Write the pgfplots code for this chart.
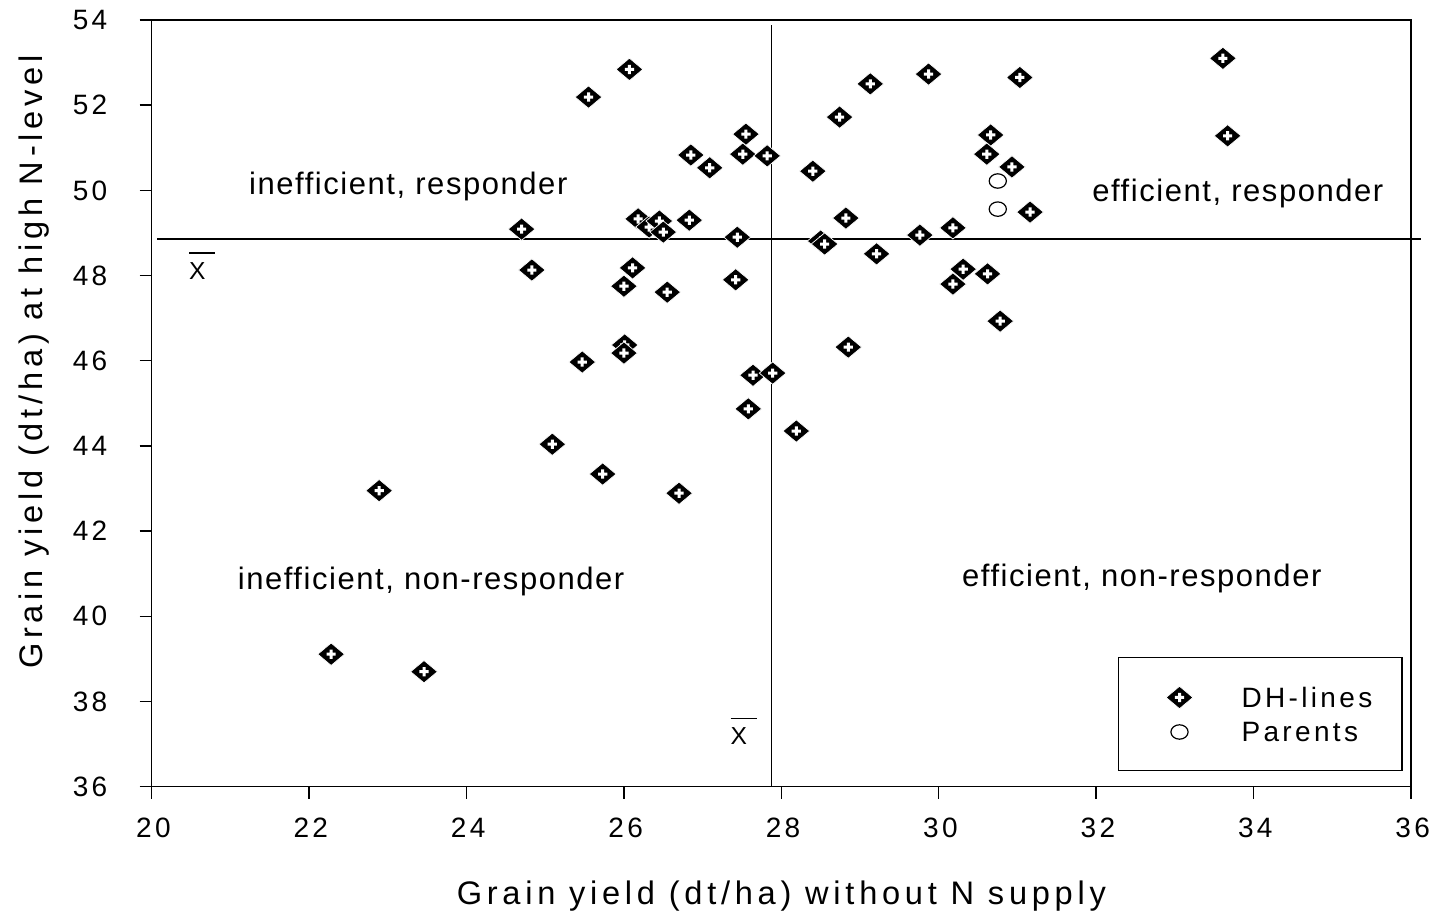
\documentclass[border=0pt]{standalone}
\usepackage{fontspec}
\setmainfont{Liberation Sans}[LetterSpace=12]
\newfontfamily\quadfont{Liberation Sans}[LetterSpace=5]
\newfontfamily\labfont{Liberation Sans}[LetterSpace=14.5]
\usepackage{pgfplots}
\pgfplotsset{compat=1.18}

\pgfdeclareplotmark{dhdiamond}{%
  \pgfpathmoveto{\pgfqpoint{0pt}{5.6pt}}%
  \pgfpathlineto{\pgfqpoint{6.7pt}{0pt}}%
  \pgfpathlineto{\pgfqpoint{0pt}{-5.6pt}}%
  \pgfpathlineto{\pgfqpoint{-6.7pt}{0pt}}%
  \pgfpathclose
  \pgfsetfillcolor{black}\pgfsetstrokecolor{white}\pgfsetlinewidth{0.35pt}%
  \pgfusepathqfillstroke
  \pgfsetfillcolor{white}%
  \pgfpathrectanglecorners{\pgfqpoint{-2.3pt}{-0.75pt}}{\pgfqpoint{2.3pt}{0.75pt}}%
  \pgfpathrectanglecorners{\pgfqpoint{-0.75pt}{-2.3pt}}{\pgfqpoint{0.75pt}{2.3pt}}%
  \pgfusepathqfill
}
\pgfdeclareplotmark{parentcirc}{%
  \pgfpathellipse{\pgfpointorigin}{\pgfqpoint{4.3pt}{0pt}}{\pgfqpoint{0pt}{3.6pt}}%
  \pgfsetfillcolor{white}\pgfsetstrokecolor{black}\pgfsetlinewidth{0.6pt}%
  \pgfusepathqfillstroke
}

\newcommand{\xbar}{\vbox{\hrule width 13pt height 0.7pt \kern 4.3pt \hbox{X}}}

\pgfplotstableread{
x y
33.61 53.10
33.67 51.28
26.07 52.84
25.55 52.19
29.87 52.73
31.03 52.65
29.13 52.50
28.74 51.72
27.55 51.32
30.66 51.30
27.51 50.85
27.82 50.81
26.85 50.83
27.09 50.53
30.61 50.85
30.93 50.55
28.40 50.45
31.16 49.49
24.70 49.09
26.18 49.33
26.32 49.14
26.45 49.28
26.50 49.02
26.83 49.30
27.44 48.90
28.50 48.81
28.55 48.74
28.82 49.35
29.76 48.95
30.18 49.12
24.83 48.13
26.11 48.18
26.00 47.75
26.55 47.61
27.42 47.90
29.21 48.51
30.31 48.15
30.18 47.80
30.62 48.04
30.78 46.93
26.01 46.37
26.00 46.18
25.47 45.97
28.85 46.32
27.64 45.66
27.89 45.71
27.58 44.87
28.19 44.35
25.09 44.04
25.73 43.34
26.70 42.89
22.89 42.95
22.28 39.11
23.46 38.70
}\dhlines

\pgfplotstableread{
x y
30.75 50.22
30.75 49.56
}\parents

\begin{document}
\begin{tikzpicture}
\useasboundingbox (-75.85pt,-64.15pt) rectangle (641.65pt,393.35pt);
\begin{axis}[
  at={(0pt,0pt)}, anchor=south west,
  scale only axis, width=629.65pt, height=383.35pt,
  xmin=20, xmax=36, ymin=36, ymax=54,
  xtick={20,22,...,36}, ytick={36,38,...,54},
  tick pos=left,
  tick align=outside,
  major tick length=6pt,
  axis line style={line width=0.7pt},
  tick style={line width=0.7pt, black},
  clip=false,
  /pgf/number format/assume math mode=true,
  tick label style={font=\fontsize{14}{16}\selectfont},
  xticklabel style={anchor=north, inner sep=0pt, yshift=-9.3pt, xshift=0.84pt},
  yticklabel style={anchor=east, inner sep=0pt, xshift=-16pt},
  xlabel={Grain yield (dt/ha) without N supply},
  ylabel={Grain yield (dt/ha) at high N-level},
  xlabel style={at={(axis description cs:0.5,-0.153)}, anchor=base, inner sep=0pt, font=\labfont\fontsize{16.3}{19}\selectfont},
  ylabel style={at={(axis description cs:-0.0871,0.554)}, anchor=base, inner sep=0pt, font=\labfont\fontsize{16.3}{19}\selectfont},
  legend cell align=left,
  legend style={at={(rel axis cs:0.9934,0.0205)}, anchor=south east,
    draw=black, line width=0.6pt,
    inner xsep=14.85pt, inner ysep=14.2pt,
    row sep=6.65pt, column sep=0pt,
    nodes={inner sep=0pt, text height=10pt, text depth=0pt, font=\fontsize{14}{16}\selectfont}},
  legend image code/.code={\path[draw=none] (-15.5pt,0pt) -- (31pt,0pt); \path[#1,draw=none] plot coordinates {(0pt,0pt)};},
]
\addplot[only marks, mark=dhdiamond] table[x=x,y=y] {\dhlines};
\addlegendentry{DH-lines}
\addplot[only marks, mark=parentcirc] table[x=x,y=y] {\parents};
\addlegendentry{Parents}

\addplot[forget plot, black, line width=0.6pt] coordinates {(27.87,36) (27.87,53.88)};
\addplot[forget plot, black, line width=0.6pt] coordinates {(20.07,48.86) (36.13,48.86)};

\node[anchor=base, inner sep=0pt, font=\quadfont\fontsize{15.5}{18}\selectfont] at (axis cs:23.26,49.91) {inefficient, responder};
\node[anchor=base, inner sep=0pt, font=\quadfont\fontsize{15.5}{18}\selectfont] at (axis cs:33.80,49.73) {efficient, responder};
\node[anchor=base, inner sep=0pt, font=\quadfont\fontsize{15.5}{18}\selectfont] at (axis cs:23.55,40.63) {inefficient, non-responder};
\node[anchor=base, inner sep=0pt, font=\quadfont\fontsize{15.5}{18}\selectfont] at (axis cs:32.58,40.69) {efficient, non-responder};
\node[anchor=base, inner sep=0pt, font=\fontsize{12.3}{14}\selectfont] at (axis cs:20.64,47.91) {\xbar};
\node[anchor=base, inner sep=0pt, font=\fontsize{12.3}{14}\selectfont] at (axis cs:27.52,36.98) {\xbar};
\end{axis}
\end{tikzpicture}
\end{document}
